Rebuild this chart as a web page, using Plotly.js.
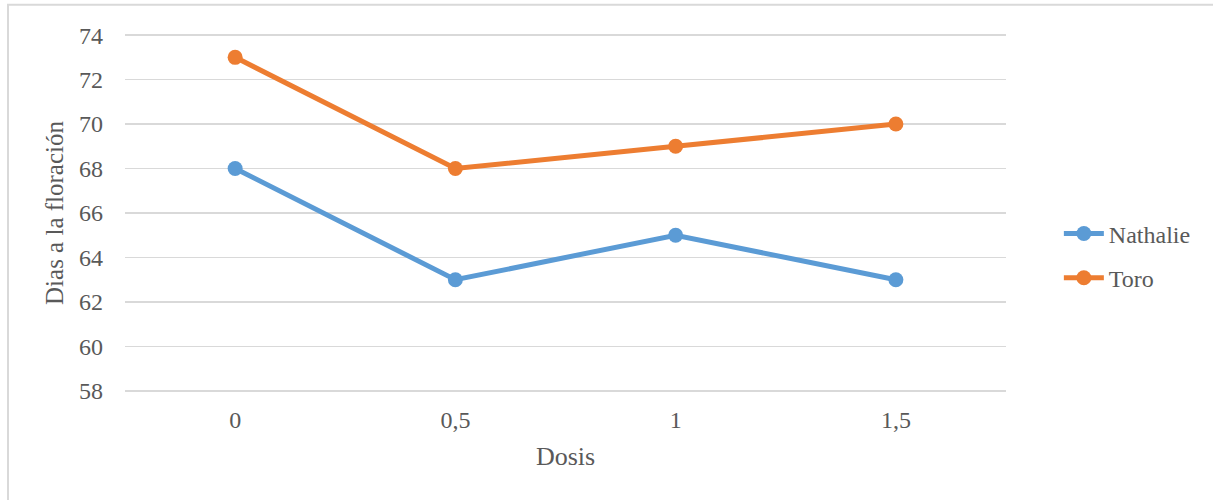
<!DOCTYPE html>
<html><head><meta charset="utf-8">
<script src="https://cdn.plot.ly/plotly-3.0.1.min.js"></script>
<style>html,body{margin:0;padding:0;background:#fff;}#chart{width:1213px;height:500px;}</style>
</head><body><div id="chart"></div>
<script>
const categories = ["0", "0,5", "1", "1,5"];
const nathalie = [68, 63, 65, 63];
const toro = [73, 68, 69, 70];
const yTicks = [58, 60, 62, 64, 66, 68, 70, 72, 74];

const fam = 'Liberation Serif, Times New Roman, serif';
const font = {family: fam, color: '#595959', size: 24};
const traces = [
  {x: categories, y: nathalie, name: 'Nathalie', type: 'scatter', mode: 'lines+markers',
   line: {color: '#5B9BD5', width: 5}, marker: {color: '#5B9BD5', size: 15}, legendgroup: 'a'},
  {x: categories, y: toro, name: 'Toro', type: 'scatter', mode: 'lines+markers',
   line: {color: '#ED7D31', width: 5}, marker: {color: '#ED7D31', size: 15}, legendgroup: 'b'}
];
const layout = {
  width: 1213, height: 500,
  margin: {l: 125, r: 207, t: 34, b: 108},
  paper_bgcolor: '#fff', plot_bgcolor: '#fff',
  font: font,
  showlegend: true,
  legend: {x: 1.06, y: 0.38, xanchor: 'left', yanchor: 'middle', font: {family: fam, size: 24, color: '#595959'},
           traceorder: 'grouped', tracegroupgap: 10, itemwidth: 40, bgcolor: 'rgba(0,0,0,0)'},
  xaxis: {type: 'category', range: [-0.5, 3.5], showgrid: false, zeroline: false, showline: false,
          ticks: '', ticklabelstandoff: 11, tickfont: font,
          title: {text: 'Dosis', font: {family: fam, size: 26, color: '#595959'}, standoff: 14}},
  yaxis: {range: [57.95, 74.05], tickvals: yTicks, ticktext: yTicks.map(String), showgrid: true, gridcolor: '#D9D9D9', gridwidth: 1.5,
          zeroline: false, showline: false, ticks: '', ticklabelstandoff: 21, tickfont: font,
          title: {text: 'Dias a la floración', font: {family: fam, size: 25, color: '#595959'}, standoff: 8}},
  shapes: [{type: 'rect', xref: 'paper', yref: 'paper', x0: -0.1328, x1: 1.25, y0: -0.34, y1: 1.0815,
            line: {color: '#D9D9D9', width: 2}, fillcolor: 'rgba(0,0,0,0)', layer: 'below'}]
};
Plotly.newPlot('chart', traces, layout, {displayModeBar: false, staticPlot: true});
</script></body></html>
